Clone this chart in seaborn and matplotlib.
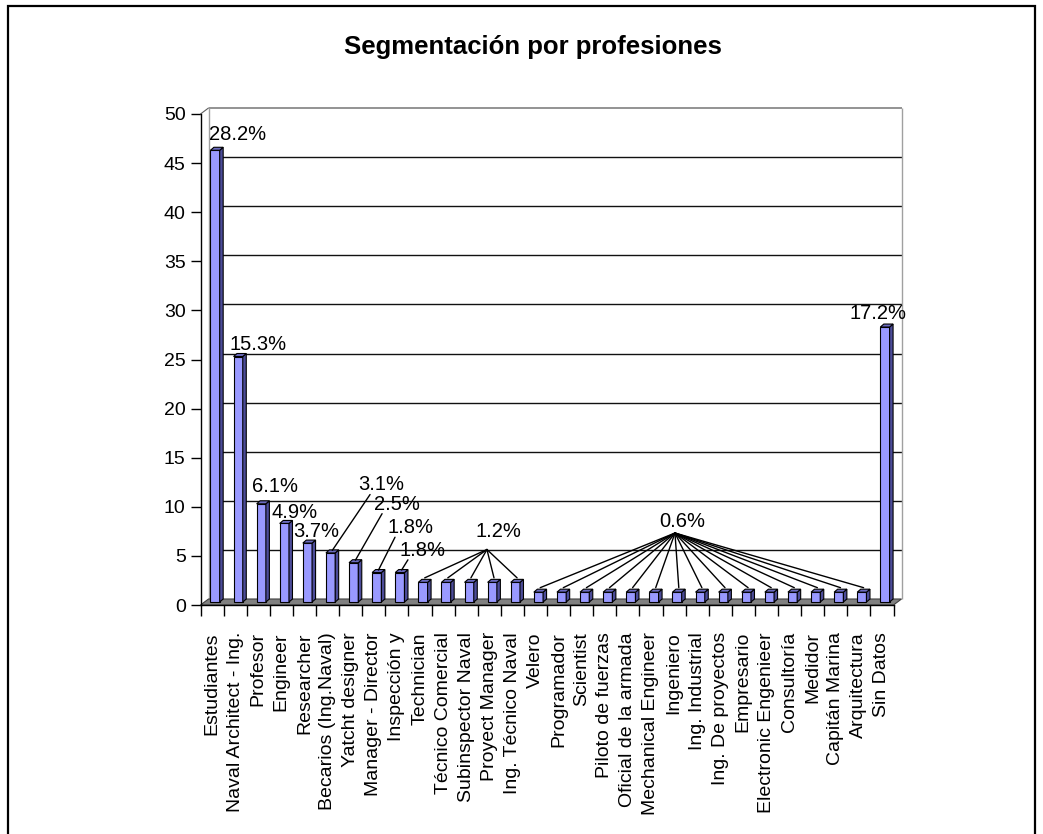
import matplotlib
matplotlib.use("Agg")
import matplotlib.pyplot as plt
import matplotlib.transforms as mtransforms
from matplotlib.patches import Polygon, Rectangle
from matplotlib.lines import Line2D
import pandas as pd
import seaborn as sns

# ---- data -------------------------------------------------------------
profesiones = [
    "Estudiantes", "Naval Architect - Ing.", "Profesor", "Engineer",
    "Researcher", "Becarios (Ing.Naval)", "Yatcht designer",
    "Manager - Director", "Inspección y", "Technician", "Técnico Comercial",
    "Subinspector Naval", "Proyect Manager", "Ing. Técnico Naval", "Velero",
    "Programador", "Scientist", "Piloto de fuerzas", "Oficial de la armada",
    "Mechanical Engineer", "Ingeniero", "Ing. Industrial",
    "Ing. De proyectos", "Empresario", "Electronic Engenieer", "Consultoría",
    "Medidor", "Capitán Marina", "Arquitectura", "Sin Datos",
]
personas = [46, 25, 10, 8, 6, 5, 4, 3, 3, 2, 2, 2, 2, 2,
            1, 1, 1, 1, 1, 1, 1, 1, 1, 1, 1, 1, 1, 1, 1, 28]
y_ticks = [0, 5, 10, 15, 20, 25, 30, 35, 40, 45, 50]
titulo = "Segmentación por profesiones"

# percentage labels: bars they describe, label centre (data units),
# optional point where the leader lines meet
etiquetas = [
    ([0], (1.12, 47.9), None),
    ([1], (2.00, 26.5), None),
    ([2], (2.73, 12.1), None),
    ([3], (3.59, 9.45), None),
    ([4], (4.50, 7.5), None),
    ([5], (7.31, 12.3), (6.84, 11.25)),
    ([6], (8.01, 10.2), (7.36, 9.3)),
    ([7], (8.57, 7.94), (7.92, 6.9)),
    ([8], (9.13, 5.6), (8.48, 4.6)),
    ([9, 10, 11, 12, 13], (12.38, 7.45), (11.9, 5.65)),
    ([14, 15, 16, 17, 18, 19, 20, 21, 22, 23, 24, 25, 26, 27, 28],
     (20.35, 8.55), (20.04, 7.33)),
    ([29], (28.83, 29.7), None),
]

# ---- style -------------------------------------------------------------
sns.set_style("white")
plt.rcParams["font.family"] = ["Liberation Sans", "DejaVu Sans"]
plt.rcParams["text.color"] = "black"
plt.rcParams["xtick.color"] = "black"
plt.rcParams["ytick.color"] = "black"
plt.rcParams["axes.labelcolor"] = "black"

FRONT = "#9999FF"
SIDE = "#4C4C99"
TOP = "#6B6BBF"
WALL_D = (8.0, 6.0)   # depth of the floor / back wall, px
BAR_O = (3.0, 3.0)    # bars stand mid-way on the floor, px
BAR_D = (3.5, 3.0)    # visible depth of each bar, px

W, H, DPI = 1043, 834, 100
fig = plt.figure(figsize=(W / DPI, H / DPI), dpi=DPI)
fig.patch.set_facecolor("white")

x0, x1, yb, yt = 200.5, 893.5, 605.0, 114.0
ax = fig.add_axes([x0 / W, 1 - yb / H, (x1 - x0) / W, (yb - yt) / H])

df = pd.DataFrame({"profesion": profesiones, "personas": personas})
sns.barplot(data=df, x="profesion", y="personas", order=profesiones,
            color=FRONT, saturation=1, width=0.40, edgecolor="black",
            linewidth=0.8, ax=ax, zorder=5)

n = len(profesiones)
ax.set_xlim(-0.5, n - 0.5)
ax.set_ylim(0, 50)
ax.set_autoscale_on(False)
ax.set_xlabel("")
ax.set_ylabel("")
ax.patch.set_alpha(0)

for s in ("top", "right"):
    ax.spines[s].set_visible(False)
for s in ("left", "bottom"):
    ax.spines[s].set_color("black")
    ax.spines[s].set_linewidth(1.0)

ax.set_yticks(y_ticks)
ax.set_yticklabels([str(v) for v in y_ticks], fontsize=14, color="black")
ax.tick_params(axis="y", direction="out", length=7.2, width=1.0,
               color="black", pad=3.5, left=True)

ax.set_xticks(range(n))
ax.set_xticklabels(profesiones, rotation=90, fontsize=14, va="top",
                   ha="center", color="black")
ax.set_xticks([i - 0.5 for i in range(n + 1)], minor=True)
ax.tick_params(axis="x", which="major", length=0, pad=19.5, bottom=True)
ax.tick_params(axis="x", which="minor", direction="out", length=7.8,
               width=1.0, color="black", bottom=True)

def shift(dx, dy):
    return ax.transData + mtransforms.ScaledTranslation(
        dx / DPI, dy / DPI, fig.dpi_scale_trans)

ident = mtransforms.IdentityTransform()
wall = shift(*WALL_D)

# floor
fx0, fy0 = ax.transData.transform((-0.5, 0))
fx1, _ = ax.transData.transform((n - 0.5, 0))
ax.add_patch(Polygon([(fx0, fy0), (fx1, fy0), (fx1 + WALL_D[0], fy0 + WALL_D[1]),
                      (fx0 + WALL_D[0], fy0 + WALL_D[1])], closed=True,
                     facecolor="#808080", edgecolor="#404040", linewidth=0.8,
                     transform=ident, clip_on=False, zorder=1))

# back wall with gridlines
ax.hlines(y_ticks[1:-1], -0.5, n - 0.5, colors="#111111", linewidth=1.0,
          transform=wall, clip_on=False, zorder=0.5)
ax.hlines([50], -0.5, n - 0.5, colors="#808080", linewidth=1.2,
          transform=wall, clip_on=False, zorder=0.5)
ax.vlines([-0.5, n - 0.5], 0, 50, colors="#A0A0A0", linewidth=1.0,
          transform=wall, clip_on=False, zorder=0.5)
tx, ty = ax.transData.transform((-0.5, 50))
ax.add_line(Line2D([tx, tx + WALL_D[0]], [ty, ty + WALL_D[1]], color="#606060",
                   linewidth=0.8, transform=ident, clip_on=False))

# bars: front faces shifted onto the floor, then side and top faces
bars = [p for p in ax.patches[:] if hasattr(p, "get_width") and p.get_height() > 0]
tops = []
for p in bars:
    p.set_transform(shift(*BAR_O))
    p.set_clip_on(False)
    bx, by = p.get_x(), p.get_y()
    bw, bh = p.get_width(), p.get_height()
    (lx, ly) = ax.transData.transform((bx, by))
    (rx, ry) = ax.transData.transform((bx + bw, by + bh))
    lx += BAR_O[0]; rx += BAR_O[0]; ly += BAR_O[1]; ry += BAR_O[1]
    dx, dy = BAR_D
    ax.add_patch(Polygon([(rx, ly), (rx, ry), (rx + dx, ry + dy), (rx + dx, ly + dy)],
                         closed=True, facecolor=SIDE, edgecolor="black",
                         linewidth=0.8, transform=ident, clip_on=False, zorder=5))
    ax.add_patch(Polygon([(lx, ry), (rx, ry), (rx + dx, ry + dy), (lx + dx, ry + dy)],
                         closed=True, facecolor=TOP, edgecolor="black",
                         linewidth=0.8, transform=ident, clip_on=False, zorder=5))
    tops.append(((lx + rx) / 2 + dx / 2, ry + dy / 2))

# percentage labels with leader lines
total = sum(personas)
for idx, (cx, cy), origen in etiquetas:
    pct = personas[idx[0]] / total * 100
    ax.text(cx, cy, f"{pct:.1f}%", fontsize=14.5, ha="center", va="center",
            color="black", zorder=7)
    if origen is None:
        continue
    ox, oy = ax.transData.transform(origen)
    for i in idx:
        ex, ey = tops[i]
        ey += 3 if len(idx) > 1 else 1
        ax.add_line(Line2D([ox, ex], [oy, ey], color="black", linewidth=1.0,
                           transform=ident, clip_on=False, zorder=6))

fig.text(532.5 / W, 1 - 47 / H, titulo, fontsize=18.5, fontweight="bold",
         ha="center", va="center", color="black")

# chart frame
fig.add_artist(Rectangle((8 / W, -0.05), (1035 - 8) / W, 1.05 - 6 / H,
                         transform=fig.transFigure, fill=False,
                         edgecolor="black", linewidth=1.6))

fig.savefig("out.png", dpi=DPI)
